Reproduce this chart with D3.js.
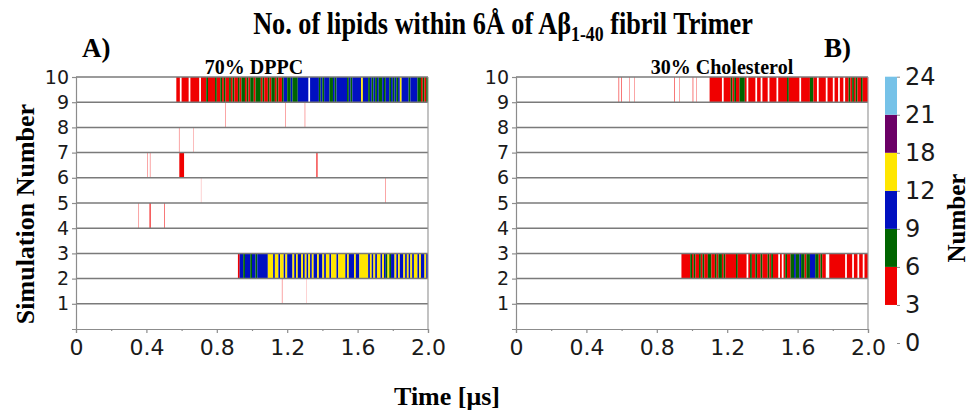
<!DOCTYPE html>
<meta charset="utf-8">
<style>
body { margin: 0; background: #fff; }
.tick text { font-family: "DejaVu Sans", sans-serif; fill: #1a1a1a; }
.lbl { font-family: "Liberation Serif", "Times New Roman", serif; font-weight: bold; fill: #000; }
</style>
<svg width="971" height="412"></svg>
<script src="https://d3js.org/d3.v7.min.js"></script>
<script>

// lipid counts sampled every 0.01 us, for the long contact episodes
var step = 0.01;

var dppcSim10Start = 0.57;
var dppcSim10 = [4,4,0,4,4,4,4,0,4,4,4,4,4,0,4,4,4,
  7,4,4,4,4,7,4,4,7,
  4,7,4,4,7,4,7,4,4,
  7,4,7,7,4,7,4,7,7,4,7,7,7,4,
  7,4,4,7,4,7,7,4,7,4,4,
  7,10,10,7,7,10,7,7,7,10,10,
  10,10,10,10,0,10,10,10,10,10,7,10,7,10,10,10,
  7,7,10,7,10,10,10,10,10,10,7,
  10,7,10,10,10,10,10,14,10,10,10,7,10,
  7,10,7,10,7,7,10,7,10,10,7,10,7,10,7,10,14,
  10,10,10,10,7,10,10,10,10,7,
  7,4,7,4,7];

var dppcSim3Start = 0.92;
var dppcSim3 = [4,
  10,10,7,10,10,10,7,10,10,7,10,10,10,10,10,
  10,14,
  14,14,10,14,14,10,14,14,10,14,10,
  10,10,14,10,14,10,10,14,10,
  14,10,14,10,14,10,
  10,14,10,10,14,10,14,14,10,
  14,14,14,10,14,14,14,14,10,14,
  10,10,10,14,10,10,14,
  14,14,14,14,10,14,
  10,14,10,14,14,10,14,10,
  7,14,7,10,
  10,14,10,14,10,10,14,10,14,10,
  14,10,14,14,10,14,10,10,14,10];

var cholSim10Start = 1.10;
var cholSim10 = [4,4,4,4,4,4,4,0,4,4,4,
  4,7,4,7,4,4,7,
  7,7,
  4,0,4,4,
  4,4,0,4,4,0,4,4,4,0,4,4,4,4,0,4,
  4,4,4,4,7,4,4,4,4,4,4,0,4,4,4,4,4,
  7,7,
  4,4,0,4,4,4,4,0,4,4,4,0,4,4,0,4,4,0,4,4,
  7,4,7,4,7,
  4,4,7,4,4,4];

var cholSim3Start = 0.94;
var cholSim3 = [4,4,4,4,4,
  7,4,7,4,4,7,4,7,4,4,
  7,7,
  4,4,7,4,
  7,7,4,7,
  4,4,4,4,4,4,7,4,4,4,4,4,
  0,
  4,7,4,4,7,4,4,7,4,4,4,7,4,7,4,4,4,
  0,4,0,
  4,7,4,4,7,
  7,10,7,7,10,7,7,4,7,7,
  10,10,10,7,
  7,4,7,4,4,
  0,0,
  4,4,4,4,4,4,4,4,
  4,0,4,4,4,0,4,4,0,4,4,0,4,4];

// short contacts: [simulation, time (us), duration (us), lipids]
var dppcEvents = [
  [9,0.85,0.002,4],[9,1.19,0.002,4],[9,1.30,0.002,4],
  [8,0.585,0.002,4],[8,0.665,0.0015,4],
  [7,0.405,0.002,4],[7,0.42,0.002,4],[7,0.587,0.027,4],[7,1.366,0.006,4],
  [6,0.71,0.001,4],[6,1.756,0.002,4],
  [5,0.356,0.002,4],[5,0.418,0.006,4],[5,0.50,0.003,4],
  [2,1.17,0.002,4],[2,1.31,0.001,4]
];
var cholEvents = [
  [10,0.583,0.003,4],[10,0.597,0.003,4],[10,0.644,0.002,4],[10,0.672,0.002,4],
  [10,0.90,0.003,4],[10,0.928,0.002,4],[10,1.004,0.003,4],[10,1.023,0.002,4]
];

var xTicks = [0, 0.4, 0.8, 1.2, 1.6, 2.0];
var xMinor = [0.2, 0.6, 1.0, 1.4, 1.8];
var yTicks = [1,2,3,4,5,6,7,8,9,10];
var cbLabels = [0, 3, 6, 9, 12, 18, 21, 24];
var cbColors = ["#f00000", "#006400", "#0010c0", "#ffe600", "#6b0066", "#76c2e8"];

var color = d3.scaleThreshold()
    .domain([3, 6, 9, 12, 18, 21])
    .range([null].concat(cbColors));

var svg = d3.select("svg");
var y = d3.scaleLinear().domain([0, 10]).range([329, 77]);

var panels = [
  {x0: 76, x1: 428, name: "70%  DPPC", tag: "A)", nameX: 254,
   runs: [[10, dppcSim10Start, dppcSim10], [3, dppcSim3Start, dppcSim3]], events: dppcEvents},
  {x0: 516, x1: 868, name: "30% Cholesterol", tag: "B)", nameX: 722,
   runs: [[10, cholSim10Start, cholSim10], [3, cholSim3Start, cholSim3]], events: cholEvents}
];

// merge equal neighbours so adjacent rects don't leave seams
function toSegments(start, vals) {
  var segs = [];
  vals.forEach(function(v, i) {
    var t = +(start + i * step).toFixed(4);
    var last = segs[segs.length - 1];
    if (last && last.v === v) last.t1 = t + step;
    else segs.push({v: v, t0: t, t1: t + step});
  });
  return segs.filter(function(s) { return s.v >= 3; });
}

panels.forEach(function(p) {
  var x = d3.scaleLinear().domain([0, 2]).range([p.x0, p.x1]);
  var g = svg.append("g");

  p.runs.forEach(function(r) {
    g.append("g").selectAll("rect")
      .data(toSegments(r[1], r[2]))
      .join("rect")
        .attr("x", function(d) { return x(d.t0); })
        .attr("width", function(d) { return x(d.t1) - x(d.t0); })
        .attr("y", y(r[0]))
        .attr("height", y(r[0] - 1) - y(r[0]))
        .attr("fill", function(d) { return color(d.v); });
  });

  g.append("g").selectAll("rect")
    .data(p.events)
    .join("rect")
      .attr("x", function(d) { return x(d[1]); })
      .attr("width", function(d) { return x(d[1] + d[2]) - x(d[1]); })
      .attr("y", function(d) { return y(d[0]); })
      .attr("height", function(d) { return y(d[0] - 1) - y(d[0]); })
      .attr("fill", function(d) { return color(d[3]); });

  // row separators
  g.append("g").selectAll("line")
    .data(yTicks)
    .join("line")
      .attr("x1", p.x0).attr("x2", p.x1)
      .attr("y1", function(d) { return y(d); })
      .attr("y2", function(d) { return y(d); })
      .attr("stroke", "#7a7a7a").attr("stroke-width", 1.5);

  g.append("line")
    .attr("x1", p.x1).attr("x2", p.x1).attr("y1", y(10)).attr("y2", y(0))
    .attr("stroke", "#9a9a9a").attr("stroke-width", 1.2);

  var ax = g.append("g").attr("transform", "translate(0," + y(0) + ")")
    .call(d3.axisBottom(x).tickValues(xTicks).tickSize(4).tickPadding(6)
      .tickFormat(function(d) { return d === 0 ? "0" : d.toFixed(1); }));
  ax.selectAll("text").style("font-size", "22px");
  g.append("g").attr("transform", "translate(0," + y(0) + ")")
    .call(d3.axisBottom(x).tickValues(xMinor).tickSize(2).tickFormat(""))
    .select(".domain").remove();

  var ay = g.append("g").attr("transform", "translate(" + p.x0 + ",0)")
    .call(d3.axisLeft(y).tickValues(yTicks).tickSize(4).tickPadding(3));
  ay.selectAll("text").style("font-size", "19px");

  g.selectAll(".domain, .tick line").attr("stroke", "#8c8c8c").attr("stroke-width", 1.2);

  svg.append("text").attr("class", "lbl")
    .attr("x", p.nameX).attr("y", 74)
    .attr("text-anchor", "middle").style("font-size", "20px")
    .text(p.name);
});

svg.append("text").attr("class", "lbl").attr("x", 82).attr("y", 57)
  .style("font-size", "27px").text("A)");
svg.append("text").attr("class", "lbl").attr("x", 824).attr("y", 57)
  .style("font-size", "27px").text("B)");

// colour bar
var cb = d3.scaleLinear().domain([0, cbLabels.length - 1]).range([343, 76.7]);
var cbg = svg.append("g");
cbg.selectAll("rect")
  .data(cbLabels.slice(1, -1))
  .join("rect")
    .attr("x", 885).attr("width", 12)
    .attr("y", function(d, i) { return cb(i + 2); })
    .attr("height", function(d, i) { return cb(i + 1) - cb(i + 2); })
    .attr("fill", function(d) { return color(d); });
var cba = cbg.append("g").attr("transform", "translate(897,0)")
  .call(d3.axisRight(cb).tickValues(d3.range(cbLabels.length)).tickSize(3).tickPadding(5)
    .tickFormat(function(i) { return cbLabels[i]; }));
cba.select(".domain").remove();
cba.selectAll(".tick line").attr("stroke", "#8c8c8c");
cba.selectAll("text").style("font-size", "24px");

// title, drawn narrow like the original
var title = svg.append("text").attr("class", "lbl")
  .attr("text-anchor", "middle").style("font-size", "31px");
title.append("tspan").text("No. of lipids within 6Å of Aβ");
title.append("tspan").attr("dy", 7).style("font-size", "21px").text("1-40");
title.append("tspan").attr("dy", -7).text(" fibril Trimer");
var tw = title.node().getBBox().width;
title.attr("transform", "translate(503,34) scale(" + (500 / tw) + ",1)");

svg.append("text").attr("class", "lbl")
  .attr("text-anchor", "middle").style("font-size", "26px")
  .attr("transform", "translate(34,214) rotate(-90)")
  .text("Simulation  Number");

svg.append("text").attr("class", "lbl")
  .attr("text-anchor", "middle").style("font-size", "26px")
  .attr("x", 447).attr("y", 405)
  .text("Time [μs]");

svg.append("text").attr("class", "lbl")
  .attr("text-anchor", "middle").style("font-size", "25px")
  .attr("transform", "translate(965,218) rotate(-90)")
  .text("Number");

</script>
